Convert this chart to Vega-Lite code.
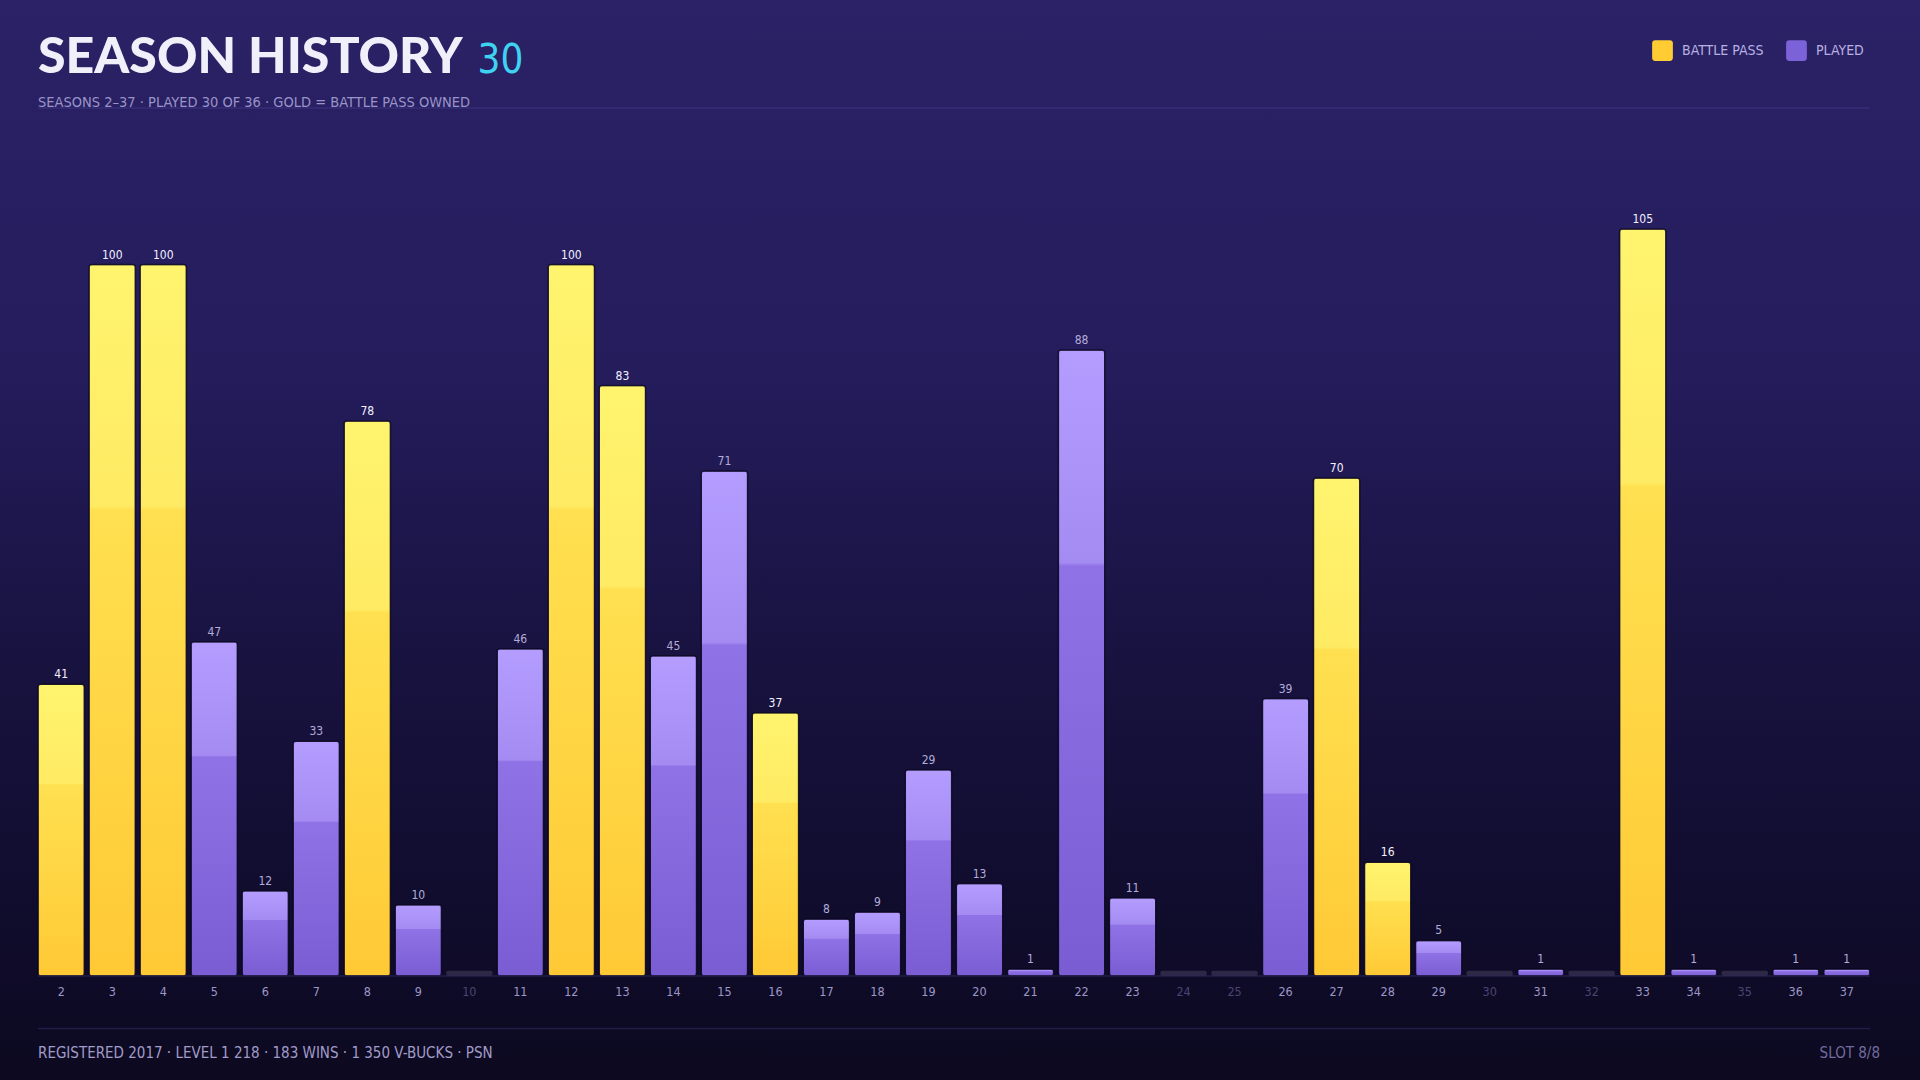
{
  "$schema": "https://vega.github.io/schema/vega-lite/v6.json",
  "autosize": "none",
  "width": 1920,
  "height": 1080,
  "padding": 0,
  "background": "#0c0920",
  "view": {
    "stroke": null,
    "fill": {
      "gradient": "linear", "x1": 0, "y1": 0, "x2": 0, "y2": 1,
      "stops": [
        {"offset": 0, "color": "#2b2267"},
        {"offset": 0.35, "color": "#241c5b"},
        {"offset": 0.62, "color": "#18123f"},
        {"offset": 0.85, "color": "#100c2c"},
        {"offset": 1, "color": "#0c0920"}
      ]
    }
  },
  "config": {
    "font": "DejaVu Sans Condensed, Liberation Sans Narrow, sans-serif"
  },
  "datasets": {
    "seasons": [
      {"season": 2, "xp": 41, "status": "BATTLE PASS"},
      {"season": 3, "xp": 100, "status": "BATTLE PASS"},
      {"season": 4, "xp": 100, "status": "BATTLE PASS"},
      {"season": 5, "xp": 47, "status": "PLAYED"},
      {"season": 6, "xp": 12, "status": "PLAYED"},
      {"season": 7, "xp": 33, "status": "PLAYED"},
      {"season": 8, "xp": 78, "status": "BATTLE PASS"},
      {"season": 9, "xp": 10, "status": "PLAYED"},
      {"season": 10, "xp": 0, "status": "UNPLAYED"},
      {"season": 11, "xp": 46, "status": "PLAYED"},
      {"season": 12, "xp": 100, "status": "BATTLE PASS"},
      {"season": 13, "xp": 83, "status": "BATTLE PASS"},
      {"season": 14, "xp": 45, "status": "PLAYED"},
      {"season": 15, "xp": 71, "status": "PLAYED"},
      {"season": 16, "xp": 37, "status": "BATTLE PASS"},
      {"season": 17, "xp": 8, "status": "PLAYED"},
      {"season": 18, "xp": 9, "status": "PLAYED"},
      {"season": 19, "xp": 29, "status": "PLAYED"},
      {"season": 20, "xp": 13, "status": "PLAYED"},
      {"season": 21, "xp": 1, "status": "PLAYED"},
      {"season": 22, "xp": 88, "status": "PLAYED"},
      {"season": 23, "xp": 11, "status": "PLAYED"},
      {"season": 24, "xp": 0, "status": "UNPLAYED"},
      {"season": 25, "xp": 0, "status": "UNPLAYED"},
      {"season": 26, "xp": 39, "status": "PLAYED"},
      {"season": 27, "xp": 70, "status": "BATTLE PASS"},
      {"season": 28, "xp": 16, "status": "BATTLE PASS"},
      {"season": 29, "xp": 5, "status": "PLAYED"},
      {"season": 30, "xp": 0, "status": "UNPLAYED"},
      {"season": 31, "xp": 1, "status": "PLAYED"},
      {"season": 32, "xp": 0, "status": "UNPLAYED"},
      {"season": 33, "xp": 105, "status": "BATTLE PASS"},
      {"season": 34, "xp": 1, "status": "PLAYED"},
      {"season": 35, "xp": 0, "status": "UNPLAYED"},
      {"season": 36, "xp": 1, "status": "PLAYED"},
      {"season": 37, "xp": 1, "status": "PLAYED"}
    ]
  },
  "data": {"name": "seasons"},
  "encoding": {
    "x": {
      "field": "season",
      "type": "ordinal",
      "scale": {"range": [38, 1870], "paddingInner": 0.09, "paddingOuter": 0},
      "axis": null
    }
  },
  "layer": [
    {
      "transform": [{"filter": "datum.status == 'UNPLAYED'"}],
      "mark": {"type": "bar", "color": "#2c2846", "cornerRadius": 2},
      "encoding": {
        "y": {"datum": 0.75, "type": "quantitative", "scale": {"domain": [0, 105], "range": [976, 229], "nice": false, "zero": false}, "axis": null},
        "y2": {"datum": 0}
      }
    },
    {
      "transform": [{"filter": "datum.status == 'BATTLE PASS'"}],
      "mark": {
        "type": "bar", "cornerRadius": 3, "stroke": "#0a0720", "strokeWidth": 1.5, "strokeOpacity": 0.7,
        "fill": {
          "gradient": "linear", "x1": 0, "y1": 0, "x2": 0, "y2": 1,
          "stops": [
            {"offset": 0, "color": "#fff46e"},
            {"offset": 0.34, "color": "#ffea63"},
            {"offset": 0.345, "color": "#ffe050"},
            {"offset": 1, "color": "#ffc935"}
          ]
        }
      },
      "encoding": {
        "y": {"field": "xp", "type": "quantitative", "axis": null}
      }
    },
    {
      "transform": [{"filter": "datum.status == 'PLAYED'"}],
      "mark": {
        "type": "bar", "cornerRadius": 3, "stroke": "#0a0720", "strokeWidth": 1.5, "strokeOpacity": 0.7,
        "fill": {
          "gradient": "linear", "x1": 0, "y1": 0, "x2": 0, "y2": 1,
          "stops": [
            {"offset": 0, "color": "#b49dff"},
            {"offset": 0.34, "color": "#a48bf2"},
            {"offset": 0.345, "color": "#8f72e5"},
            {"offset": 1, "color": "#7a5dd3"}
          ]
        }
      },
      "encoding": {
        "y": {"field": "xp", "type": "quantitative", "axis": null}
      }
    },
    {
      "transform": [{"filter": "datum.status != 'UNPLAYED'"}],
      "mark": {"type": "text", "baseline": "alphabetic", "dy": -6, "fontSize": 12},
      "encoding": {
        "y": {"field": "xp", "type": "quantitative", "axis": null},
        "text": {"field": "xp"},
        "color": {
          "condition": {"test": "datum.status == 'BATTLE PASS'", "value": "#f3f1ff"},
          "value": "#b3acda"
        }
      }
    },
    {
      "mark": {"type": "text", "baseline": "middle", "fontSize": 12.5},
      "encoding": {
        "y": {"datum": -2.25, "type": "quantitative"},
        "text": {"field": "season"},
        "color": {
          "condition": {"test": "datum.status == 'UNPLAYED'", "value": "#4b4573"},
          "value": "#9d97c7"
        }
      }
    },
    {
      "transform": [{"filter": "datum.status != 'UNPLAYED'"}],
      "mark": {"type": "square", "size": 0, "opacity": 1},
      "encoding": {
        "y": {"datum": 0, "type": "quantitative"},
        "color": {
          "field": "status",
          "type": "nominal",
          "scale": {"domain": ["BATTLE PASS", "PLAYED"], "range": ["#ffcc33", "#7b62d8"]},
          "legend": {
            "title": null,
            "orient": "none",
            "legendX": 1652,
            "legendY": 40,
            "direction": "horizontal",
            "symbolType": "M-0.7,-1L0.7,-1Q1,-1 1,-0.7L1,0.7Q1,1 0.7,1L-0.7,1Q-1,1 -1,0.7L-1,-0.7Q-1,-1 -0.7,-1Z",
            "symbolSize": 430,
            "symbolOpacity": 1,
            "symbolStrokeWidth": 0,
            "labelFont": "DejaVu Sans Condensed, Liberation Sans Narrow, sans-serif",
            "labelFontSize": 14,
            "labelColor": "#b8b0e0",
            "labelOffset": 9,
            "columnPadding": 22,
            "padding": 0
          }
        }
      }
    },
    {
      "data": {"values": [{"id": "header"}]},
      "mark": {"type": "rule", "color": "#3d3680", "strokeWidth": 1},
      "encoding": {
        "x": {"datum": 2, "type": "ordinal", "bandPosition": 0},
        "x2": {"datum": 37, "bandPosition": 1},
        "y": {"datum": 122.0, "type": "quantitative"}
      }
    },
    {
      "data": {"values": [{"id": "baseline"}]},
      "mark": {"type": "rule", "color": "#2e2858", "strokeWidth": 1},
      "encoding": {
        "x": {"datum": 2, "type": "ordinal", "bandPosition": 0},
        "x2": {"datum": 37, "bandPosition": 1},
        "y": {"datum": 0, "type": "quantitative"}
      }
    },
    {
      "data": {"values": [{"id": "footer"}]},
      "mark": {"type": "rule", "color": "#221d47", "strokeWidth": 1.5},
      "encoding": {
        "x": {"datum": 2, "type": "ordinal", "bandPosition": 0},
        "x2": {"datum": 37, "bandPosition": 1},
        "y": {"datum": -7.39, "type": "quantitative"}
      }
    },
    {
      "data": {"values": [{"label": "SEASON HISTORY"}]},
      "mark": {"type": "text", "align": "left", "baseline": "alphabetic", "font": "Lato", "fontWeight": 900, "fontSize": 50, "color": "#f1eff9"},
      "encoding": {
        "x": {"datum": 2, "type": "ordinal", "bandPosition": 0},
        "y": {"datum": 126.86, "type": "quantitative"},
        "text": {"field": "label"}
      }
    },
    {
      "data": {"values": [{"label": "30"}]},
      "mark": {"type": "text", "align": "right", "baseline": "alphabetic", "fontSize": 40, "dx": 3, "color": "#3fd3f2"},
      "encoding": {
        "x": {"datum": 11, "type": "ordinal"},
        "y": {"datum": 126.86, "type": "quantitative"},
        "text": {"field": "label"}
      }
    },
    {
      "data": {"values": [{"label": "SEASONS 2–37 · PLAYED 30 OF 36 · GOLD = BATTLE PASS OWNED"}]},
      "mark": {"type": "text", "align": "left", "baseline": "alphabetic", "fontSize": 14.5, "color": "#9a94c8"},
      "encoding": {
        "x": {"datum": 2, "type": "ordinal", "bandPosition": 0},
        "y": {"datum": 122.15, "type": "quantitative"},
        "text": {"field": "label"}
      }
    },
    {
      "data": {"values": [{"label": "REGISTERED 2017 · LEVEL 1 218 · 183 WINS · 1 350 V-BUCKS · PSN"}]},
      "mark": {"type": "text", "align": "left", "baseline": "middle", "fontSize": 15, "color": "#a29cc9"},
      "encoding": {
        "x": {"datum": 2, "type": "ordinal", "bandPosition": 0},
        "y": {"datum": -10.82, "type": "quantitative"},
        "text": {"field": "label"}
      }
    },
    {
      "data": {"values": [{"label": "SLOT 8/8"}]},
      "mark": {"type": "text", "align": "right", "baseline": "middle", "fontSize": 15, "color": "#726c9c", "dx": 10},
      "encoding": {
        "x": {"datum": 37, "type": "ordinal", "bandPosition": 1},
        "y": {"datum": -10.82, "type": "quantitative"},
        "text": {"field": "label"}
      }
    }
  ]
}
